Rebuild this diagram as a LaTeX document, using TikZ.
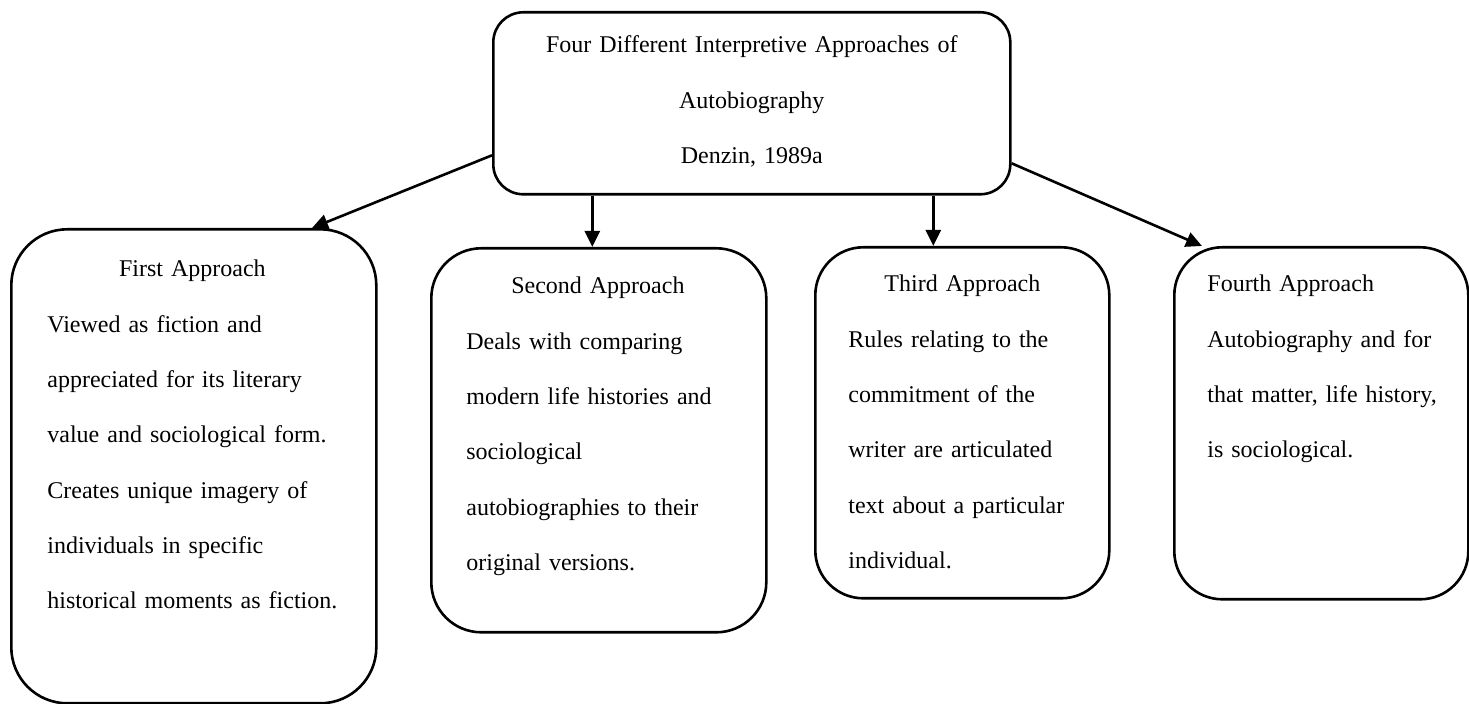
\documentclass[tikz,border=0pt]{standalone}
\usepackage{fontspec}
\setmainfont{Liberation Serif}
\usepackage{tikz}
\usetikzlibrary{arrows.meta,positioning,calc}
\newcommand{\bodyfont}{\fontsize{12}{27.65}\selectfont}
\tikzset{
  panel/.style={draw,line width=1.3pt,rounded corners=25pt,anchor=north west,inner sep=0pt},
  blurb/.style={anchor=base west,inner sep=0pt,align=left,font=\bodyfont},
  link/.style={-{Triangle[length=8pt,width=7.5pt]},line width=1.3pt},
}

\begin{document}
\begin{tikzpicture}[x=0.5pt,y=-0.5pt]
  \useasboundingbox (0,0) rectangle (1469,704);
  % boxes
  \node[panel,rounded corners=15pt,minimum width=258.5pt,minimum height=91pt] (top) at (492,11) {};
  \node[panel,rounded corners=28pt,minimum width=182.5pt,minimum height=237pt] (first) at (10,228) {};
  \node[panel,minimum width=167.5pt,minimum height=192pt] (second) at (430,247) {};
  \node[panel,rounded corners=24pt,minimum width=147pt,minimum height=175.5pt] (third) at (814,246) {};
  \node[panel,rounded corners=24pt,minimum width=147pt,minimum height=176pt] (fourth) at (1173,246) {};

  % texts
  \node[blurb,anchor=base,text width=220pt,align=center] (toptext) at ($(top.north)+(0,42)$)
    {Four Different Interpretive Approaches of\\Autobiography\\Denzin, 1989a};
  \node[blurb,text width=145pt] (firsttext) at ($(first.north west)+(37,49)$)
    {\makebox[\linewidth]{First Approach}\\Viewed as fiction and\\appreciated for its literary\\value and sociological form.\\Creates unique imagery of\\individuals in specific\\historical moments as fiction.};
  \node[blurb,text width=131.5pt] (secondtext) at ($(second.north west)+(36,47)$)
    {\makebox[\linewidth]{Second Approach}\\Deals with comparing\\modern life histories and\\sociological\\autobiographies to their\\original versions.};
  \node[blurb,text width=114pt] (thirdtext) at ($(third.north west)+(34,46)$)
    {\makebox[\linewidth]{Third Approach}\\Rules relating to the\\commitment of the\\writer are articulated\\text about a particular\\individual.};
  \node[blurb,text width=130pt] (fourthtext) at ($(fourth.north west)+(34,46)$)
    {Fourth Approach\\Autobiography and for\\that matter, life history,\\is sociological.};

  % arrows
  \coordinate (s2) at ([xshift=-3.25pt]second.north);
  \coordinate (s3) at ([xshift=-14.5pt]third.north);
  \draw[link] ([yshift=-26pt]top.west) -- ([xshift=151pt]first.north west);
  \draw[link] (s2 |- top.south) -- (s2);
  \draw[link] (s3 |- top.south) -- (s3);
  \draw[link] ([yshift=-30pt]top.east) -- ([xshift=14.5pt]fourth.north west);
\end{tikzpicture}
\end{document}
